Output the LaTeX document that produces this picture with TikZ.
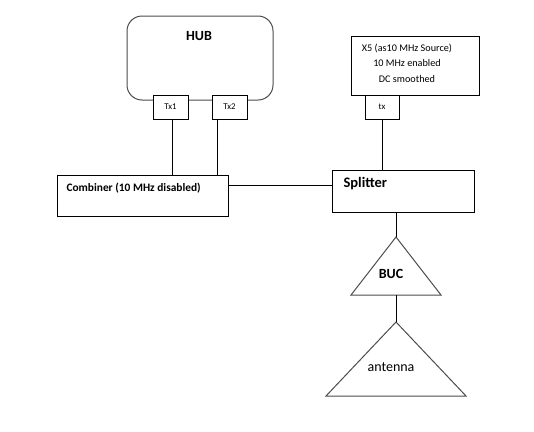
\documentclass[tikz,border=0pt]{standalone}
\usepackage{fontspec}
\setmainfont{Carlito}
\usetikzlibrary{positioning,calc}

\tikzset{
  outline/.style={draw=black!70, line width=1pt},
  unitbox/.style={draw=black, line width=1pt, fill=white, inner sep=0pt, outer sep=0pt},
  wire/.style={draw=black, line width=1pt}
}

\begin{document}
\begin{tikzpicture}[x=1pt,y=-1pt]
\useasboundingbox (0,0) rectangle (534,431);

% Hub with its two transmitters
\node[outline, rounded corners=15pt, minimum width=146pt, minimum height=84pt, inner sep=0pt] (hub) at (200,58) {};
\node[font=\fontsize{14}{16}\selectfont\bfseries] (hublbl) at (199,36) {HUB};
\node[unitbox, minimum width=35pt, minimum height=24pt, font=\fontsize{8.8}{10}\selectfont] (tx1) at (170.5,107) {Tx1};
\node[unitbox, minimum width=35pt, minimum height=24pt, font=\fontsize{8.8}{10}\selectfont] (tx2) at (229.5,107) {Tx2};

% X5 reference source
\node[unitbox, minimum width=128pt, minimum height=59pt] (xfive) at (415,65.5) {};
\node[align=center, font=\fontsize{10.2}{15.5}\selectfont] (xfivelbl) at (407,63) {X5 (as10 MHz Source)\\10 MHz enabled\\DC smoothed};
\node[unitbox, minimum width=34pt, minimum height=24pt, font=\fontsize{8.8}{10}\selectfont] (txs) at (382,107) {tx};

% Combiner and splitter
\node[unitbox, minimum width=171pt, minimum height=41pt] (comb) at (142.5,195.5) {};
\node[anchor=west, font=\fontsize{11.4}{13}\selectfont\bfseries] (comblbl) at (63,188) {Combiner (10 MHz disabled)};
\node[unitbox, minimum width=142pt, minimum height=42pt] (spl) at (403,191) {};
\node[anchor=west, font=\fontsize{14.5}{16}\selectfont\bfseries] (spllbl) at (340,184) {Splitter};

% BUC and antenna
\coordinate (buctop) at (396,237);
\draw[outline] (buctop) -- ++(45,58) -- ++(-90,0) -- cycle;
\node[font=\fontsize{14}{16}\selectfont\bfseries] (buclbl) at (391,274) {BUC};
\coordinate (buc) at (396,295);
\coordinate (anttop) at (396,322);
\draw[outline] (anttop) -- ++(70,74) -- ++(-140,0) -- cycle;
\node[font=\fontsize{14}{16}\selectfont] (antlbl) at (391,367) {antenna};

% Connections
\draw[wire] (tx1.south) ++(1.5,0) coordinate (t1) -- (t1 |- comb.north);
\draw[wire] (tx2.south) ++(-12.5,0) coordinate (t2) -- (t2 |- comb.north);
\draw[wire] (txs.south) -- (txs.south |- spl.north);
\draw[wire] ($(comb.north east)+(0,10)$) coordinate (cj) -- (cj -| spl.west);
\draw[wire] (buctop |- spl.south) -- (buctop);
\draw[wire] (buc) -- (anttop);
\end{tikzpicture}
\end{document}
